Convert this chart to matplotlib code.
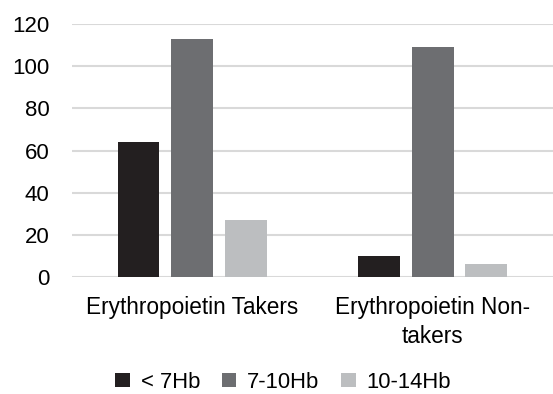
import numpy as np
import matplotlib.pyplot as plt

groups = ['Erythropoietin Takers', 'Erythropoietin Non-\ntakers']
series = ['< 7Hb', '7-10Hb', '10-14Hb']
below_7 = [64, 10]
hb_7_10 = [113, 109]
hb_10_14 = [27, 6]
colors = ['#231f20', '#6d6e71', '#bcbec0']

plt.rcParams['font.family'] = ['Liberation Sans', 'DejaVu Sans']

fig = plt.figure(figsize=(5.53, 3.94), dpi=100)
ax = fig.add_axes([0.130, 0.297, 0.870, 0.642])

x = np.arange(len(groups))
width = 0.1736
step = 0.223
for i, (vals, lab) in enumerate(zip([below_7, hb_7_10, hb_10_14], series)):
    ax.bar(x + (i - 1) * step, vals, width, color=colors[i], label=lab, zorder=3)

ax.set_xlim(-0.5, 1.5)
ax.set_ylim(0, 120)
ax.set_yticks(range(0, 121, 20))
ax.set_xticks(x)
ax.set_xticklabels(groups, fontsize=16.3, linespacing=1.3)
ax.tick_params(axis='y', labelsize=16, length=0, pad=16)
ax.tick_params(axis='x', length=0, pad=14)
ax.grid(axis='y', color='#d9d9d9', linewidth=1.5, zorder=0)
for s in ax.spines.values():
    s.set_visible(False)

fig.legend(loc='center', bbox_to_anchor=(0.512, 0.03), ncol=3, frameon=False,
           fontsize=15.8, handlelength=0.65, handleheight=0.65, handletextpad=0.5,
           columnspacing=1.0)

fig.savefig('out.png', dpi=100)
